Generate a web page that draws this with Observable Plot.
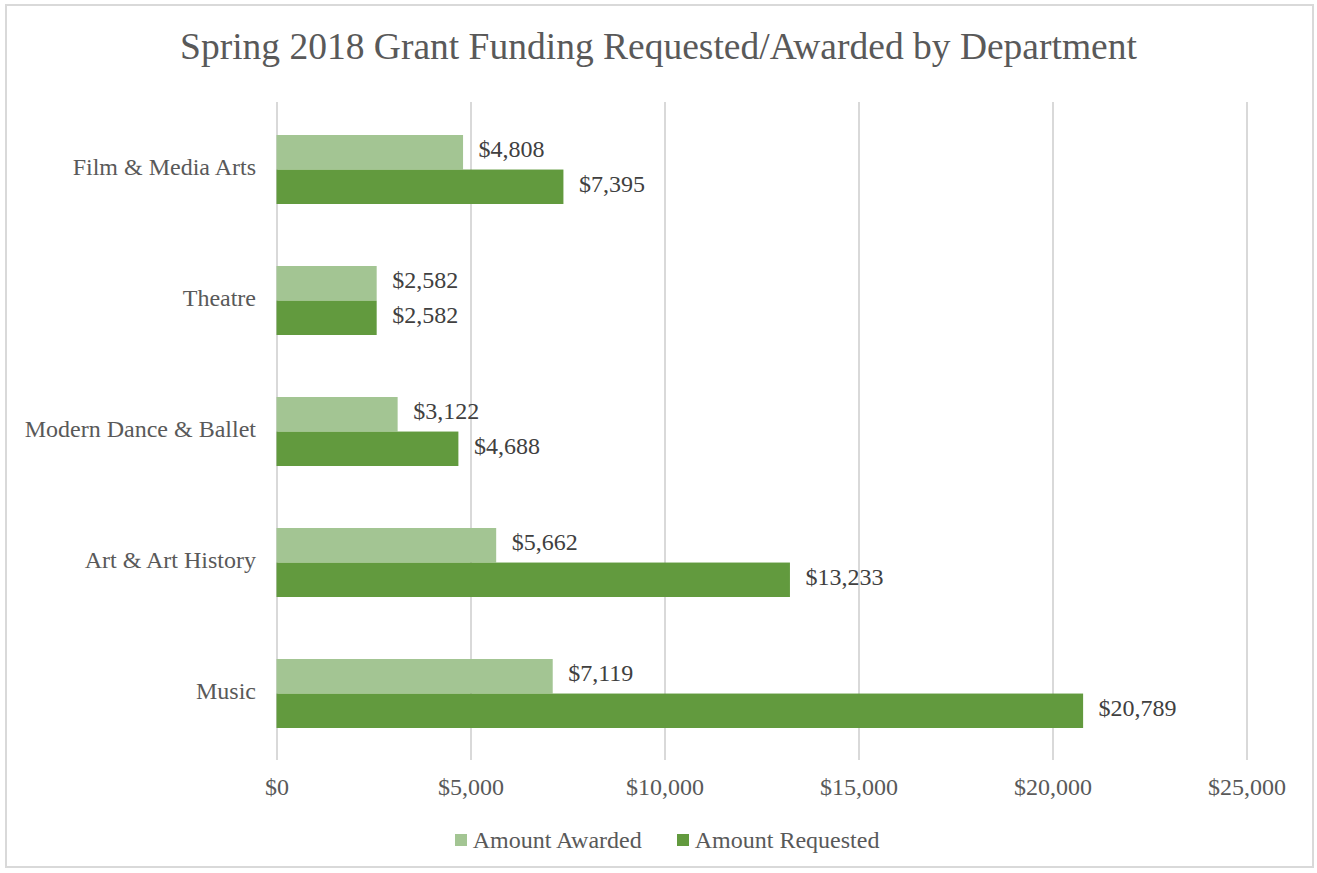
<!DOCTYPE html>
<html>
<head>
<meta charset="utf-8">
<script src="https://cdn.jsdelivr.net/npm/d3@7"></script>
<script src="https://cdn.jsdelivr.net/npm/@observablehq/plot@0.6"></script>
<style>
  html, body { margin: 0; padding: 0; background: #fff; }
  #page { position: relative; width: 1317px; height: 873px; overflow: hidden; font-family: "Liberation Serif", "Times New Roman", serif; color: #595959; }
  #frame { position: absolute; left: 5px; top: 4px; width: 1309px; height: 864px; border: 2px solid #d9d9d9; box-sizing: border-box; pointer-events: none; }
  #title { height: 90px; line-height: 94px; text-align: center; font-size: 37.5px; color: #595959; white-space: nowrap; }
  #chart svg { display: block; }
  #legend { display: flex; justify-content: center; align-items: center; height: 60px; font-size: 24px; color: #595959; padding-left: 17px; }
  .item { display: flex; align-items: center; margin: 0 17.5px; }
  .sw { width: 12px; height: 12px; margin-right: 6px; }
</style>
</head>
<body>
<div id="page">
  <div id="frame"></div>
  <div id="title">Spring 2018 Grant Funding Requested/Awarded by Department</div>
  <div id="chart"></div>
  <div id="legend"></div>
</div>
<script>
const departments = ["Film & Media Arts", "Theatre", "Modern Dance & Ballet", "Art & Art History", "Music"];
const awarded = [4808, 2582, 3122, 5662, 7119];
const requested = [7395, 2582, 4688, 13233, 20789];
const xTicks = [0, 5000, 10000, 15000, 20000, 25000];
const seriesNames = ["Amount Awarded", "Amount Requested"];
const colors = ["#a3c593", "#629a3e"];

const fmt = d => "$" + d3.format(",")(d);
const awardedRows = departments.map((d, i) => ({dept: d, value: awarded[i]}));
const requestedRows = departments.map((d, i) => ({dept: d, value: requested[i]}));

const W = 1317, H = 720;
const mTop = 12, mBottom = 50, mLeft = 276.5, mRight = 70.5;
const pInner = 0.475, pOuter = 0.2375;
const step = (H - mTop - mBottom) / departments.length;
const half = step * (1 - pInner) / 2;

const chart = Plot.plot({
  width: W,
  height: H,
  marginTop: mTop,
  marginBottom: mBottom,
  marginLeft: mLeft,
  marginRight: mRight,
  style: {fontFamily: '"Liberation Serif", "Times New Roman", serif', fontSize: "24px", color: "#595959", background: "transparent"},
  x: {domain: [0, 25000], label: null},
  y: {domain: departments, paddingInner: pInner, paddingOuter: pOuter, label: null},
  marks: [
    Plot.ruleX(xTicks, {stroke: "#d9d9d9", strokeWidth: 2, strokeOpacity: 1}),
    Plot.barX(awardedRows, {x: "value", y: "dept", fill: colors[0], insetBottom: half}),
    Plot.barX(requestedRows, {x: "value", y: "dept", fill: colors[1], insetTop: half}),
    Plot.text(awardedRows, {x: "value", y: "dept", text: d => fmt(d.value), textAnchor: "start", dx: 15, dy: -half / 2 - 3, fill: "#404040", fontSize: 24}),
    Plot.text(requestedRows, {x: "value", y: "dept", text: d => fmt(d.value), textAnchor: "start", dx: 15, dy: half / 2 - 3, fill: "#404040", fontSize: 24}),
    Plot.axisX({ticks: xTicks, tickFormat: fmt, tickSize: 0, tickPadding: 17, label: null, fill: "#595959"}),
    Plot.axisY({tickSize: 0, tickPadding: 21, dy: -3, label: null, fill: "#595959"})
  ]
});
document.getElementById("chart").appendChild(chart);

const legend = document.getElementById("legend");
seriesNames.forEach((name, i) => {
  const item = document.createElement("div");
  item.className = "item";
  const sw = document.createElement("div");
  sw.className = "sw";
  sw.style.background = colors[i];
  const label = document.createElement("span");
  label.textContent = name;
  item.appendChild(sw);
  item.appendChild(label);
  legend.appendChild(item);
});
</script>
</body>
</html>
